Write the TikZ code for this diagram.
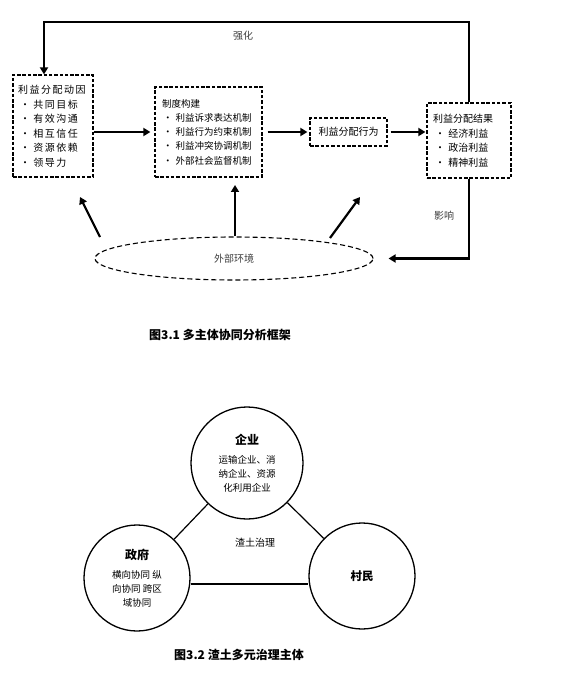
\documentclass[tikz,border=0pt]{standalone}
\usepackage{fontspec}
\setmainfont{Noto Sans CJK SC}
\usetikzlibrary{arrows.meta,shapes.geometric}

\tikzset{
  dashbox/.style={draw, line width=1.2pt, dash pattern=on 3.5pt off 1.8pt,
    inner xsep=6pt, inner ysep=0pt, align=left},
  arr/.style={line width=2.2pt, -{Triangle[length=7pt,width=8pt]}},
  actor/.style={draw, circle, line width=1.3pt, align=center, inner sep=0pt,
    font=\fontsize{9.5}{14}\selectfont},
  actortitle/.style={font=\fontsize{11.5}{14}\selectfont\bfseries},
  caption/.style={font=\fontsize{12}{14}\selectfont\bfseries},
}

\begin{document}
\begin{tikzpicture}[x=1pt, y=-1pt, every node/.style={font=\fontsize{10}{14.5}\selectfont}]
\useasboundingbox[fill=white] (0,0) rectangle (567,676);

% ----------------------------------------------------
% 1. Framework
% ----------------------------------------------------
\begin{scope}
  \node[dashbox, text width=70pt, minimum height=102pt, inner xsep=5pt,
    font=\fontsize{10}{14.5}\selectfont\addfontfeature{LetterSpace=15}] (motive) at (53,126)
    {利益分配动因\\\hspace{2pt}· 共同目标\\\hspace{2pt}· 有效沟通\\\hspace{2pt}· 相互信任\\\hspace{2pt}· 资源依赖\\\hspace{2pt}· 领导力};
  \node[dashbox, text width=99pt, minimum height=90pt, inner xsep=4pt,
    font=\fontsize{9.5}{14.3}\selectfont] (inst) at (208.5,132)
    {\hspace{3pt}制度构建\\\hspace{4pt}· 利益诉求表达机制\\\hspace{4pt}· 利益行为约束机制\\\hspace{4pt}· 利益冲突协调机制\\\hspace{4pt}· 外部社会监督机制};
  \node[dashbox, align=center, minimum width=77pt, minimum height=28pt] (act) at (348.5,132) {利益分配行为};
  \node[dashbox, text width=72pt, minimum height=75pt] (res) at (469,140.5)
    {利益分配结果\\\hspace{2pt}· 经济利益\\\hspace{2pt}· 政治利益\\\hspace{2pt}· 精神利益};

  \node[draw, ellipse, line width=1.1pt, dash pattern=on 5pt off 3pt,
    minimum width=278pt, minimum height=43pt, text=black!75] (env) at (234,258.5) {外部环境};

  \node[text=black!75] (strong) at (243,36) {强化};
  \node[text=black!75] (affect) at (444,216) {影响};

  \coordinate (topL) at (44,22);
  \coordinate (envL) at (100,237);
  \coordinate (tipL) at (80,197);
  \coordinate (tipM) at (235,185);
  \coordinate (envR) at (330,238);
  \coordinate (tipR) at (360,197);

  % main chain
  \draw[arr, shorten >=4pt] (motive.east |- inst.west) -- (inst.west);
  \draw[arr, shorten <=5pt, shorten >=2pt] (inst.east |- act.west) -- (act.west);
  \draw[arr, shorten <=3pt, shorten >=1pt] (act.east) -- (act.east -| res.west);

  % feedback loops
  \draw[arr] (res.north) |- (topL) -- (topL |- motive.north);
  \draw[arr, shorten >=15pt] (res.south) |- (env.east);

  % environment influence
  \draw[arr] (envL) -- (tipL);
  \draw[arr] (env.north -| tipM) -- (tipM);
  \draw[arr] (envR) -- (tipR);

  \node[caption] (cap1) at (220,335) {图3.1\ 多主体协同分析框架};
\end{scope}

% ----------------------------------------------------
% 2. Governance actors
% ----------------------------------------------------
\begin{scope}
  \node[actor, minimum size=112pt] (firm) at (247,463)
    {\textbf{\large 企业}\\[5pt]运输企业、消\\纳企业、资源\\化利用企业};
  \node[actor, minimum size=106pt] (gov) at (137,578)
    {\textbf{\large 政府}\\[5pt]横向协同\ 纵\\向协同\ 跨区\\域协同};
  \node[actor, actortitle, minimum size=106pt] (vill) at (362,576) {村民};

  \node (gov-label) at (255,543) {渣土治理};

  \draw[line width=1.2pt] (firm) -- (gov);
  \draw[line width=1.2pt] (firm) -- (vill);
  \draw[line width=1.2pt] ([yshift=-6pt]gov.east) -- ([yshift=-6pt]gov.east -| vill.west);

  \node[caption] (cap2) at (239,655) {图3.2\ 渣土多元治理主体};
\end{scope}

\end{tikzpicture}
\end{document}
